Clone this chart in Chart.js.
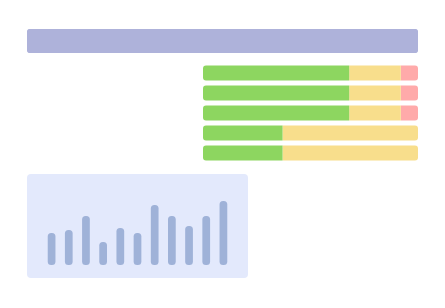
<!DOCTYPE html>
<html>
<head>
<meta charset="utf-8">
<script src="https://cdn.jsdelivr.net/npm/chart.js@4/dist/chart.umd.min.js"></script>
<style>
  html, body { margin: 0; padding: 0; background: #fff; }
  body { width: 445px; height: 308px; position: relative; overflow: hidden; }
  canvas, .panel { position: absolute; }
  #headerChart { left: 27px; top: 29px; }
  #stackChart { left: 203px; top: 63px; }
  .panel { left: 27px; top: 174px; width: 221px; height: 104px; background: #e3e9fc; border-radius: 4px; }
  #columnChart { left: 43px; top: 195px; }
</style>
</head>
<body>
<canvas id="headerChart" width="391" height="24"></canvas>
<canvas id="stackChart" width="215" height="100"></canvas>
<div class="panel"></div>
<canvas id="columnChart" width="189" height="70"></canvas>
<script>
// header bar
const headerLabels = ['header'];
const headerValues = [100];

// stacked rows (percent of row)
const rowLabels = ['r1', 'r2', 'r3', 'r4', 'r5'];
const greenValues = [68, 68, 68, 37, 37];
const yellowValues = [24, 24, 24, 63, 63];
const redValues = [8, 8, 8, 0, 0];

// columns in the panel
const columnLabels = ['1', '2', '3', '4', '5', '6', '7', '8', '9', '10', '11'];
const columnValues = [32, 35, 49, 23, 37, 32, 60, 49, 39, 49, 64];

const hidden = { display: false };
const baseOptions = {
    responsive: false,
    animation: false,
    layout: { padding: 0 },
    plugins: { legend: hidden, tooltip: { enabled: false } }
};

new Chart(document.getElementById('headerChart'), {
    type: 'bar',
    data: {
        labels: headerLabels,
        datasets: [{
            data: headerValues,
            backgroundColor: '#aeb2da',
            borderRadius: 4,
            borderSkipped: false,
            barPercentage: 1,
            categoryPercentage: 1
        }]
    },
    options: {
        ...baseOptions,
        indexAxis: 'y',
        scales: {
            x: { display: false, min: 0, max: 100 },
            y: { display: false }
        }
    }
});

// round only the outer ends of each row
const R = 3;
function leftRadius() {
    return { topLeft: R, bottomLeft: R, topRight: 0, bottomRight: 0 };
}
function yellowRadius(ctx) {
    const end = redValues[ctx.dataIndex] === 0 ? R : 0;
    return { topLeft: 0, bottomLeft: 0, topRight: end, bottomRight: end };
}
function rightRadius() {
    return { topLeft: 0, bottomLeft: 0, topRight: R, bottomRight: R };
}

new Chart(document.getElementById('stackChart'), {
    type: 'bar',
    data: {
        labels: rowLabels,
        datasets: [
            { data: greenValues, backgroundColor: '#8dd660', borderRadius: leftRadius },
            { data: yellowValues, backgroundColor: '#f8de8c', borderRadius: yellowRadius },
            { data: redValues, backgroundColor: '#ffaaaa', borderRadius: rightRadius }
        ]
    },
    options: {
        ...baseOptions,
        indexAxis: 'y',
        datasets: {
            bar: { borderSkipped: false, barPercentage: 1, categoryPercentage: 0.74 }
        },
        scales: {
            x: { display: false, stacked: true, min: 0, max: 100 },
            y: { display: false, stacked: true }
        }
    }
});

new Chart(document.getElementById('columnChart'), {
    type: 'bar',
    data: {
        labels: columnLabels,
        datasets: [{
            data: columnValues,
            backgroundColor: '#9fb2d8',
            borderRadius: 3.5,
            borderSkipped: false,
            barPercentage: 0.45,
            categoryPercentage: 1
        }]
    },
    options: {
        ...baseOptions,
        scales: {
            x: { display: false },
            y: { display: false, min: 0, max: 70 }
        }
    }
});
</script>
</body>
</html>
